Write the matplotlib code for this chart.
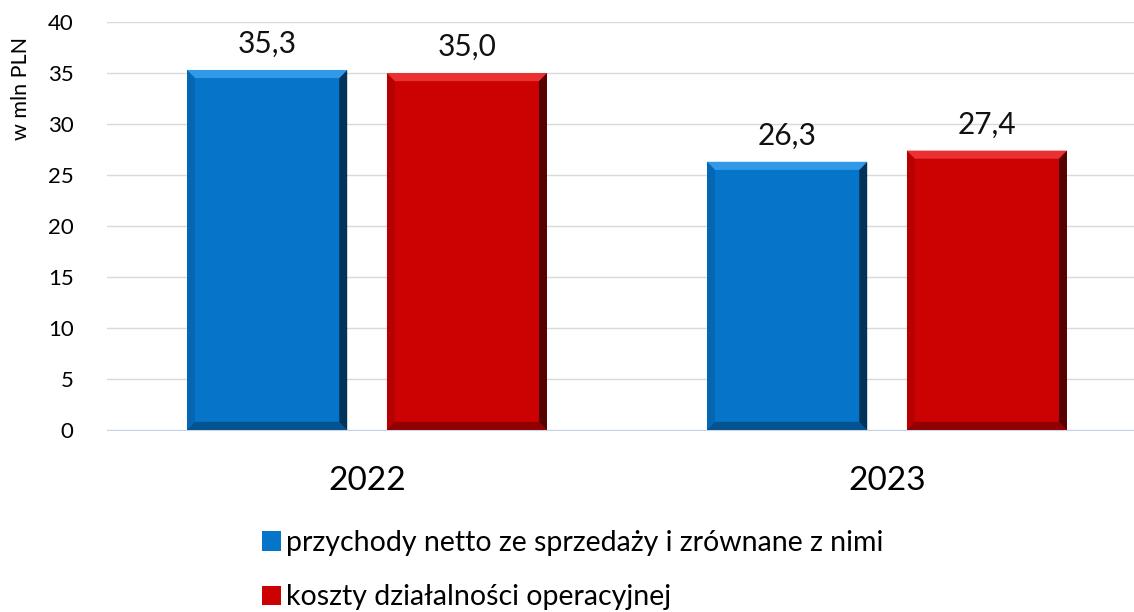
import numpy as np
import matplotlib.pyplot as plt
from matplotlib.patches import Polygon

plt.rcParams['font.family'] = ['Lato', 'DejaVu Sans']

# data
years = ['2022', '2023']
revenue = [35.3, 26.3]
costs = [35.0, 27.4]
series_names = ['przychody netto ze sprzedaży i zrównane z nimi',
                'koszty działalności operacyjnej']
colors = ['#0674C9', '#CC0202']
dark = ['#02233F', '#3A0000']
light = ['#3AA0EE', '#F03A3A']

fig = plt.figure(figsize=(11.34, 6.12), dpi=100)
ax = fig.add_axes([107 / 1134, 182 / 612, 1 - 107 / 1134, 408 / 612])

x = np.arange(len(years))
width = 0.308
offset = 0.192


def bevel(ax, rect, base, dk, lt):
    # fake the 3D bevel effect of the original
    x0, y0 = rect.get_x(), rect.get_y()
    w, h = rect.get_width(), rect.get_height()
    bw = w * 0.05
    bh = 0.8
    x1, y1 = x0 + w, y0 + h
    ax.add_patch(Polygon([(x1 - bw, y0 + bh), (x1, y0), (x1, y1), (x1 - bw, y1 - bh)],
                         closed=True, color=dk, lw=0, alpha=0.8, zorder=3))
    ax.add_patch(Polygon([(x0, y1), (x1, y1), (x1 - bw, y1 - bh), (x0 + bw, y1 - bh)],
                         closed=True, color=lt, lw=0, alpha=0.85, zorder=3))
    ax.add_patch(Polygon([(x0, y0), (x1, y0), (x1 - bw, y0 + bh), (x0 + bw, y0 + bh)],
                         closed=True, color=dk, lw=0, alpha=0.4, zorder=3))
    ax.add_patch(Polygon([(x0, y0), (x0 + bw, y0 + bh), (x0 + bw, y1 - bh), (x0, y1)],
                         closed=True, color=dk, lw=0, alpha=0.15, zorder=3))


handles = []
for vals, dx, c, dk, lt in zip([revenue, costs], [-offset, offset], colors, dark, light):
    bars = ax.bar(x + dx, vals, width, color=c, zorder=2)
    handles.append(bars)
    for r, v in zip(bars, vals):
        bevel(ax, r, c, dk, lt)
        ax.text(r.get_x() + r.get_width() / 2, v + 2.55, f'{v:.1f}'.replace('.', ','),
                ha='center', va='center', fontsize=21.5, color='#111111')

ax.set_xlim(-0.5, 1.475)
ax.set_ylim(0, 40)
ax.set_yticks(range(0, 41, 5))
ax.tick_params(axis='y', length=0, labelsize=16, pad=24)
ax.set_xticks(x)
ax.set_xticklabels(years, fontsize=24)
ax.tick_params(axis='x', length=0, pad=26)
ax.grid(axis='y', color='#D9D9D9', lw=1, zorder=0)
for s in ['top', 'right', 'left']:
    ax.spines[s].set_visible(False)
ax.spines['bottom'].set_color('#C9D6EA')
ax.set_axisbelow(True)

fig.text(21 / 1134, 1 - 88 / 612, 'w mln PLN', rotation=90, ha='center', va='center',
         fontsize=15.5)

leg = fig.legend(handles, series_names, loc='upper left', bbox_to_anchor=(262 / 1134, 1 - 530 / 612),
                 frameon=False, fontsize=20.5, handlelength=0.65, handleheight=0.65,
                 handletextpad=0.2, labelspacing=1.0, borderpad=0, borderaxespad=0)

plt.savefig('out.png', dpi=100)
